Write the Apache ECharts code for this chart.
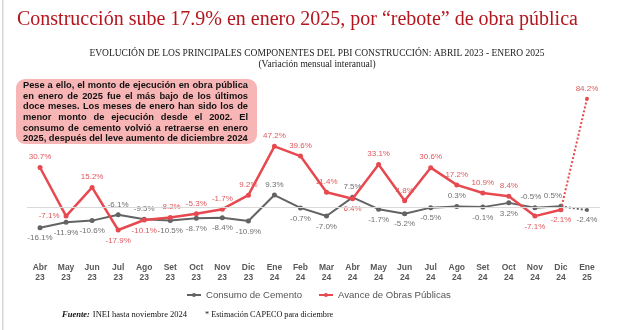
<!DOCTYPE html>
<html>
<head>
<meta charset="utf-8">
<script src="https://cdn.jsdelivr.net/npm/echarts@6/dist/echarts.min.js"></script>
<style>
  html, body { margin: 0; padding: 0; background: #fff; }
  #chart { width: 620px; height: 330px; }
</style>
</head>
<body>
<div id="chart"></div>
<script>
// Months (category axis)
const months = ['Abr\n23','May\n23','Jun\n23','Jul\n23','Ago\n23','Set\n23','Oct\n23','Nov\n23','Dic\n23',
  'Ene\n24','Feb\n24','Mar\n24','Abr\n24','May\n24','Jun\n24','Jul\n24','Ago\n24','Set\n24','Oct\n24','Nov\n24','Dic\n24','Ene\n25'];

// Interannual monthly variation (%)
const cemento = [-16.1,-11.9,-10.6,-6.1,-9.5,-10.5,-8.7,-8.4,-10.9,9.3,-0.7,-7.0,7.5,-1.7,-5.2,-0.5,0.3,-0.1,3.2,-0.5,0.5,-2.4];
const obras   = [30.7,-7.1,15.2,-17.9,-10.1,-8.2,-5.3,-1.7,9.2,47.2,39.6,11.4,6.4,33.1,4.8,30.6,17.2,10.9,8.4,-7.1,-2.1,84.2];

// Where each value label sits relative to its point
const cementoLabelAt = ['bottom','bottom','bottom','top','top','bottom','bottom','bottom','bottom','top','bottom','bottom',
  'top','bottom','bottom','bottom','top','bottom','bottom','top','top','bottom'];
const obrasLabelAt = ['top','left','top','bottom','bottom','top','top','top','top','top','top','top',
  'bottom','top','top','top','top','top','top','bottom','bottom','top'];

const noteLines = [
  'Pese a ello, el monto de ejecución en obra pública',
  'en enero de 2025 fue el más bajo de los últimos',
  'doce meses. Los meses de enero han sido los de',
  'menor monto de ejecución desde el 2002. El',
  'consumo de cemento volvió a retraerse en enero',
  '2025, después del leve aumento de diciembre 2024'
];

const GRAY = '#636363', RED = '#e64a50';
const GRAY_LBL = '#6f6f6f', RED_LBL = '#e0575c';
const SANS = 'Liberation Sans';

const last = months.length - 1;

// small nudges for labels that would sit on a neighbouring mark
const cementoNudge = { 19: [-4, 0], 20: [-8, 0] };

function pts(values, positions, upTo, nudge) {
  return values.map((v, i) => {
    if (i > upTo) return null;
    const lab = { position: positions[i] };
    if (nudge && nudge[i]) lab.offset = nudge[i];
    return { value: v, label: lab };
  });
}
function tail(values, positions) {
  return values.map((v, i) => {
    if (i < last - 1) return null;
    if (i === last - 1) return { value: v, symbol: 'none', label: { show: false } };
    return { value: v, label: { position: positions[i] } };
  });
}

const measure = document.createElement('canvas').getContext('2d');
function textWidth(str, font) { measure.font = font; return measure.measureText(str).width; }

// Justified paragraph inside the rounded note box
function paragraph(lines, x, y, width, lh, font, fill) {
  const els = [];
  const space = textWidth(' ', font);
  lines.forEach((line, i) => {
    const words = line.split(' ');
    const ws = words.map(w => textWidth(w, font));
    const total = ws.reduce((a, b) => a + b, 0);
    const gap = (i === lines.length - 1) ? space : (width - total) / (words.length - 1);
    let cx = x;
    words.forEach((w, j) => {
      els.push({ type: 'text', x: cx, y: y + i * lh,
        style: { text: w, font: font, fill: fill, textAlign: 'left', textVerticalAlign: 'middle' } });
      cx += ws[j] + gap;
    });
  });
  return els;
}

const noteFont = 'bold 9.3px "Liberation Sans"';
const footFontB = 'italic bold 8.5px "Liberation Serif"';
const footFont = '8.5px "Liberation Serif"';
const fuenteW = textWidth('Fuente:', footFontB);

const chart = echarts.init(document.getElementById('chart'), null, { renderer: 'canvas' });

const labelBase = { show: true, fontFamily: SANS, fontSize: 8, distance: 4, formatter: p => p.value.toFixed(1) + '%' };

chart.setOption({
  animation: false,
  grid: { left: 27, right: 20, top: 91.3, height: 167.1, containLabel: false },
  xAxis: {
    type: 'category', data: months, boundaryGap: true,
    axisLine: { show: false }, axisTick: { show: false },
    axisLabel: { fontFamily: SANS, fontSize: 8.5, fontWeight: 'bold', color: '#595959', lineHeight: 9.5, margin: 5, interval: 0 }
  },
  yAxis: {
    type: 'value', min: -40, max: 90,
    axisLine: { show: false }, axisTick: { show: false }, axisLabel: { show: false }, splitLine: { show: false }
  },
  legend: {
    data: ['Consumo de Cemento', 'Avance de Obras Públicas'],
    top: 285, left: 181, itemGap: 16, itemWidth: 14, itemHeight: 5,
    textStyle: { fontFamily: SANS, fontSize: 9.6, color: '#555' }
  },
  series: [
    {
      name: 'Consumo de Cemento', type: 'line', data: pts(cemento, cementoLabelAt, last - 1, cementoNudge),
      symbol: 'circle', symbolSize: 5, itemStyle: { color: GRAY }, lineStyle: { color: GRAY, width: 2 },
      label: Object.assign({}, labelBase, { color: GRAY_LBL }), z: 3,
      markLine: { silent: true, symbol: 'none', label: { show: false },
        lineStyle: { color: '#d9d9d9', width: 1, type: 'solid' }, data: [{ yAxis: 0 }] }
    },
    {
      name: 'Consumo de Cemento', type: 'line', data: tail(cemento, cementoLabelAt),
      symbol: 'circle', symbolSize: 4, itemStyle: { color: GRAY }, lineStyle: { color: GRAY, width: 2, type: 'dotted' },
      label: Object.assign({}, labelBase, { color: GRAY_LBL }), z: 3
    },
    {
      name: 'Avance de Obras Públicas', type: 'line', data: pts(obras, obrasLabelAt, last - 1),
      symbol: 'circle', symbolSize: 5, itemStyle: { color: RED }, lineStyle: { color: RED, width: 2.5 },
      label: Object.assign({}, labelBase, { color: RED_LBL }), z: 4
    },
    {
      name: 'Avance de Obras Públicas', type: 'line', data: tail(obras, obrasLabelAt),
      symbol: 'circle', symbolSize: 4, itemStyle: { color: RED }, lineStyle: { color: RED, width: 2, type: 'dotted' },
      label: Object.assign({}, labelBase, { color: RED_LBL }), z: 4
    }
  ],
  graphic: [
    { type: 'rect', shape: { x: 2, y: 0, width: 1.5, height: 330 }, style: { fill: '#d6d6d6' }, silent: true },
    { type: 'text', x: 17, y: 20, style: { text: 'Construcción sube 17.9% en enero 2025, por “rebote” de obra pública',
        font: '20px "Liberation Serif"', fill: '#b3161e', textAlign: 'left', textVerticalAlign: 'middle' } },
    { type: 'text', x: 317, y: 53, style: { text: 'EVOLUCIÓN DE LOS PRINCIPALES COMPONENTES DEL PBI CONSTRUCCIÓN: ABRIL 2023 - ENERO 2025',
        font: '9.5px "Liberation Serif"', fill: '#222', textAlign: 'center', textVerticalAlign: 'middle' } },
    { type: 'text', x: 317, y: 64.5, style: { text: '(Variación mensual interanual)',
        font: '9.5px "Liberation Serif"', fill: '#222', textAlign: 'center', textVerticalAlign: 'middle' } },
    { type: 'rect', shape: { x: 16, y: 79, width: 241, height: 65, r: 9 }, style: { fill: '#f7b5b5' }, silent: true },
    ...paragraph(noteLines, 23, 85.3, 225, 10.7, noteFont, '#111'),
    { type: 'text', x: 62, y: 314.5, style: { text: 'Fuente:', font: footFontB, fill: '#111', textVerticalAlign: 'middle' } },
    { type: 'text', x: 62 + fuenteW + 3, y: 314.5, style: { text: 'INEI hasta noviembre 2024', font: footFont, fill: '#111', textVerticalAlign: 'middle' } },
    { type: 'text', x: 205, y: 314.5, style: { text: '* Estimación CAPECO para diciembre', font: '8.2px "Liberation Serif"', fill: '#111', textVerticalAlign: 'middle' } }
  ]
});
</script>
</body>
</html>
